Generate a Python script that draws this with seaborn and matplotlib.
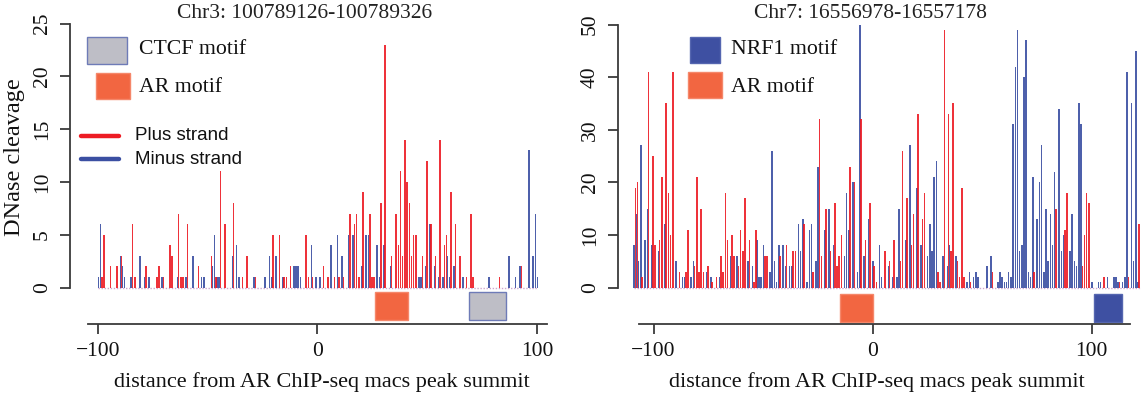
import numpy as np
import matplotlib
matplotlib.use("Agg")
import matplotlib.pyplot as plt
import seaborn as sns
from matplotlib.patches import Rectangle
from matplotlib.lines import Line2D

# ---------------- data ----------------
L_title = "Chr3: 100789126-100789326"
R_title = "Chr7: 16556978-16557178"
xlabel = "distance from AR ChIP-seq macs peak summit"
ylabel = "DNase cleavage"

L_plus_pos = [-98, -97, -94, -91, -89, -84, -83, -78, -73, -72, -70, -67, -66, -63, -62,
              -61, -59, -54, -48, -46, -44, -42, -38, -34, -32, -28, -20, -17, -15, -14,
              -12, -5, -4, -2, 3, 5, 8, 10, 12, 15, 17, 18, 19, 21, 24,
              25, 26, 29, 31, 34, 36, 37, 38, 39, 40, 41, 42, 43, 44, 45,
              48, 50, 52, 54, 56, 58, 59, 61, 63, 65, 68, 70, 71, 83, 93]
L_plus_val = [1, 5, 2, 2, 3, 6, 1, 2, 1, 2, 1, 4, 3, 7, 1,
              1, 6, 2, 3, 1, 11, 6, 8, 1, 3, 1, 5, 5, 1, 1,
              2, 5, 1, 1, 2, 1, 1, 1, 1, 7, 6, 7, 1, 9, 7,
              1, 1, 8, 23, 3, 7, 4, 11, 3, 14, 10, 8, 3, 5, 5,
              3, 12, 6, 3, 14, 4, 5, 9, 6, 3, 1, 7, 1, 1, 2]
L_minus_pos = [-100, -99, -90, -89, -88, -85, -81, -79, -77, -71, -64, -60, -57, -53, -52,
               -48, -47, -46, -45, -39, -37, -36, -29, -24, -22, -21, -19, -16, -11, -10,
               -9, -8, -3, -1, 1, 6, 9, 11, 14, 16, 20, 22, 23, 27, 28,
               30, 33, 46, 47, 49, 51, 53, 55, 57, 59, 60, 62, 66, 78, 87,
               90, 92, 96, 98, 99, 100]
L_minus_val = [1, 6, 3, 2, 1, 1, 3, 1, 1, 1, 1, 1, 3, 1, 1,
               2, 5, 1, 1, 3, 4, 1, 1, 1, 3, 1, 3, 1, 2, 2,
               2, 1, 4, 1, 1, 4, 5, 3, 5, 5, 2, 5, 5, 4, 1,
               4, 2, 1, 1, 2, 6, 2, 1, 1, 3, 1, 2, 1, 1, 3,
               1, 2, 13, 3, 7, 1]
L_motif_start = [26, 69]
L_motif_end = [41, 86]

R_plus_pos = [-108, -107, -105, -102, -100, -99, -97, -96, -94, -93, -92, -91, -88, -85, -84,
              -81, -80, -79, -78, -77, -75, -73, -71, -69, -68, -67, -66, -64, -63, -61,
              -60, -59, -58, -56, -54, -53, -49, -48, -42, -39, -36, -35, -31, -27, -24,
              -23, -21, -19, -17, -16, -15, -14, -10, -8, -5, -3, -1, 1, 2, 6,
              8, 10, 13, 14, 16, 18, 19, 21, 23, 24, 30, 31, 33, 35, 36,
              37, 39, 40, 41, 42, 45, 55, 74, 84, 88, 89, 96, 97, 98, 99,
              106, 113, 117, 122]
R_plus_val = [19, 20, 2, 41, 25, 8, 9, 21, 35, 18, 10, 41, 3, 3, 11,
              4, 21, 3, 15, 3, 4, 1, 2, 6, 3, 18, 9, 10, 6, 4,
              11, 7, 17, 9, 1, 11, 6, 6, 6, 8, 7, 7, 12, 3, 32,
              6, 15, 7, 16, 4, 6, 10, 23, 20, 32, 9, 16, 4, 1, 7,
              5, 9, 5, 26, 17, 8, 14, 33, 13, 18, 3, 1, 49, 33, 7,
              35, 5, 2, 19, 2, 1, 3, 3, 15, 11, 18, 4, 10, 18, 16,
              2, 1, 2, 12]
R_minus_pos = [-109, -108, -107, -106, -104, -103, -101, -98, -95, -90, -87, -86, -83, -82, -76,
               -74, -70, -65, -62, -57, -55, -53, -52, -51, -50, -47, -46, -45, -44, -43,
               -41, -40, -38, -37, -34, -33, -32, -30, -29, -28, -26, -25, -22, -20, -18,
               -13, -12, -11, -9, -7, -6, -4, -2, 0, 3, 4, 7, 9, 11, 12,
               15, 17, 20, 22, 25, 26, 27, 28, 29, 32, 34, 35, 38, 43, 44,
               46, 47, 48, 52, 54, 57, 58, 59, 60, 61, 62, 63, 64, 65, 66,
               67, 68, 69, 70, 71, 72, 73, 75, 76, 77, 78, 79, 80, 81, 82,
               83, 85, 86, 87, 90, 91, 92, 93, 94, 95, 100, 103, 104, 107, 110,
               111, 112, 114, 115, 116, 118, 119, 120, 121]
R_minus_val = [8, 14, 5, 27, 9, 15, 8, 7, 12, 5, 2, 2, 2, 5, 3,
               2, 2, 6, 6, 5, 4, 9, 2, 2, 8, 3, 26, 5, 1, 8,
               8, 4, 4, 4, 12, 7, 13, 1, 11, 12, 5, 23, 11, 15, 8,
               6, 18, 11, 20, 3, 50, 6, 13, 5, 8, 2, 4, 2, 2, 15,
               9, 27, 19, 8, 6, 12, 7, 21, 24, 6, 4, 8, 6, 1, 3,
               2, 3, 2, 4, 6, 1, 3, 2, 1, 1, 3, 2, 31, 42, 49,
               7, 8, 40, 47, 3, 2, 21, 13, 20, 27, 3, 15, 5, 14, 8,
               22, 34, 7, 10, 7, 14, 5, 4, 35, 31, 1, 1, 1, 2, 2,
               2, 1, 1, 2, 41, 35, 5, 45, 1]
R_motif_start = [-15, 101]
R_motif_end = [0, 114]

L_yticks = [0, 5, 10, 15, 20, 25]
R_yticks = [0, 10, 20, 30, 40, 50]
xticks = [-100, 0, 100]

# ---------------- style ----------------
RED = "#ED1C24"
BLUE = "#3B4FA2"
AR_COL = "#F26641"
CTCF_COL = "#BEBEC6"
NRF1_COL = "#3E50A2"
AXCOL = "#3a3a3a"

sns.set_theme(style="white")
plt.rcParams['font.family'] = ['Liberation Serif', 'DejaVu Serif']
plt.rcParams['axes.unicode_minus'] = True

W, H = 1141, 396
fig = plt.figure(figsize=(W / 100, H / 100), dpi=100)


def add_ax(x0, x1, y0, y1):
    return fig.add_axes([x0 / W, 1 - y1 / H, (x1 - x0) / W, (y1 - y0) / H])


def panel(ax, plus_pos, plus_val, minus_pos, minus_val, xlim, ylim, ybound,
          xbound, yticks, outward, motif_start, motif_end, motif_cols, motif_edges,
          box_y):
    mp = np.array(minus_pos, dtype=float)
    pp = np.array(plus_pos, dtype=float)
    sns.barplot(x=mp + 0.2, y=minus_val, native_scale=True, orient="x", width=0.7,
                color=BLUE, saturation=1, errorbar=None, linewidth=0, alpha=0.9, ax=ax)
    sns.barplot(x=pp - 0.2, y=plus_val, native_scale=True, orient="x", width=0.7,
                color=RED, saturation=1, errorbar=None, linewidth=0, alpha=0.9, ax=ax)
    allpos = np.concatenate([mp, pp])
    ax.hlines(0, allpos.min(), allpos.max(), colors="#cfa6cf", lw=1.0,
              linestyles=(0, (1, 1.2)), zorder=0)
    for s, e, fc, ec in zip(motif_start, motif_end, motif_cols, motif_edges):
        ax.axvspan(s, e, ymin=box_y[0], ymax=box_y[1], facecolor=fc, edgecolor=ec, lw=1)
    ax.set_xlim(*xlim)
    ax.set_ylim(*ylim)
    ax.set_xticks(xticks)
    ax.set_xticklabels([f"{t}".replace("-", "\u2212") for t in xticks])
    ax.set_yticks(yticks)
    ax.set_yticklabels([str(t) for t in yticks])
    for sp in ["top", "right"]:
        ax.spines[sp].set_visible(False)
    ax.spines["left"].set_position(("outward", outward))
    ax.spines["left"].set_bounds(*ybound)
    ax.spines["bottom"].set_bounds(*xbound)
    for sp in ["left", "bottom"]:
        ax.spines[sp].set_color(AXCOL)
        ax.spines[sp].set_linewidth(1.3)
    ax.tick_params(axis="both", which="major", bottom=True, left=True, length=7,
                   width=1.3, color=AXCOL, direction="out", labelsize=15.5,
                   labelcolor="#111111")
    ax.tick_params(axis="x", pad=6)
    ax.tick_params(axis="y", pad=6, labelrotation=90)
    for lab in ax.get_yticklabels():
        lab.set_verticalalignment("center")
    ax.set_xlabel("")
    ax.set_ylabel("")
    ax.patch.set_alpha(0)


# left panel: axes px x 88..547, y 20..324
axL = add_ax(88, 547, 20, 324)
panel(axL, L_plus_pos, L_plus_val, L_minus_pos, L_minus_val,
      xlim=(-104.5, 104.5), ylim=((287.5 - 324) / 10.56, (287.5 - 20) / 10.56),
      ybound=(0, 25), xbound=(-104.5, 104.5), yticks=L_yticks, outward=18 * 0.72,
      motif_start=L_motif_start, motif_end=L_motif_end,
      motif_cols=[AR_COL, CTCF_COL], motif_edges=["#F5876A", "#6E7BB7"],
      box_y=((324 - 320) / 304, (324 - 292) / 304))

# right panel: axes px x 630..1141
axR = add_ax(630, 1141, 20, 324)
r_x0 = (630 - 872.5) / 2.19
r_x1 = (1141 - 872.5) / 2.19
panel(axR, R_plus_pos, R_plus_val, R_minus_pos, R_minus_val,
      xlim=(r_x0, r_x1), ylim=((287.5 - 324) / 5.26, (287.5 - 20) / 5.26),
      ybound=(0, 50), xbound=((638.6 - 872.5) / 2.19, (1130 - 872.5) / 2.19),
      yticks=R_yticks, outward=12 * 0.72,
      motif_start=R_motif_start, motif_end=R_motif_end,
      motif_cols=[AR_COL, NRF1_COL], motif_edges=["#F5876A", "#5566B0"],
      box_y=((324 - 322) / 304, (324 - 294) / 304))

# titles
fig.text(305 / W, 1 - 13 / H, L_title, ha="center", va="center", fontsize=15.5, color="#222222")
fig.text(870 / W, 1 - 13 / H, R_title, ha="center", va="center", fontsize=15.5, color="#222222")
# x labels
fig.text(322 / W, 1 - 382 / H, xlabel, ha="center", va="center", fontsize=16, color="#111111")
fig.text(877 / W, 1 - 382 / H, xlabel, ha="center", va="center", fontsize=16, color="#111111")
# y label
fig.text(15 / W, 1 - 157 / H, ylabel, ha="center", va="center", rotation=90, fontsize=17.5,
         color="#111111")


# legends (pixel placed)
def rect(x0, y0, x1, y1, fc, ec):
    fig.add_artist(Rectangle((x0 / W, 1 - y1 / H), (x1 - x0) / W, (y1 - y0) / H,
                             transform=fig.transFigure, facecolor=fc, edgecolor=ec, lw=1))


def hline(x0, x1, y, c):
    fig.add_artist(Line2D([x0 / W, x1 / W], [1 - y / H, 1 - y / H], transform=fig.transFigure,
                          color=c, lw=3.2, solid_capstyle="round"))


rect(87.3, 37.3, 126.7, 64, CTCF_COL, "#6E7BB7")
fig.text(139 / W, 1 - 50 / H, "CTCF motif", va="center", ha="left", fontsize=15.7, color="#111111")
rect(95.7, 72.7, 130, 98.7, AR_COL, "#F5876A")
fig.text(139 / W, 1 - 87 / H, "AR motif", va="center", ha="left", fontsize=15.7, color="#111111")
hline(81, 119, 136, RED)
fig.text(135 / W, 1 - 136 / H, "Plus strand", va="center", ha="left", fontsize=13.5,
         family=["Liberation Sans", "DejaVu Sans"], color="#111111")
hline(81, 119, 159, BLUE)
fig.text(135 / W, 1 - 159 / H, "Minus strand", va="center", ha="left", fontsize=13.5,
         family=["Liberation Sans", "DejaVu Sans"], color="#111111")

rect(690, 37, 720, 63, NRF1_COL, "#5566B0")
fig.text(731 / W, 1 - 49 / H, "NRF1 motif", va="center", ha="left", fontsize=15.7, color="#111111")
rect(688, 72, 721.7, 98, AR_COL, "#F5876A")
fig.text(731 / W, 1 - 87 / H, "AR motif", va="center", ha="left", fontsize=15.7, color="#111111")

fig.savefig("out.png", dpi=100)
